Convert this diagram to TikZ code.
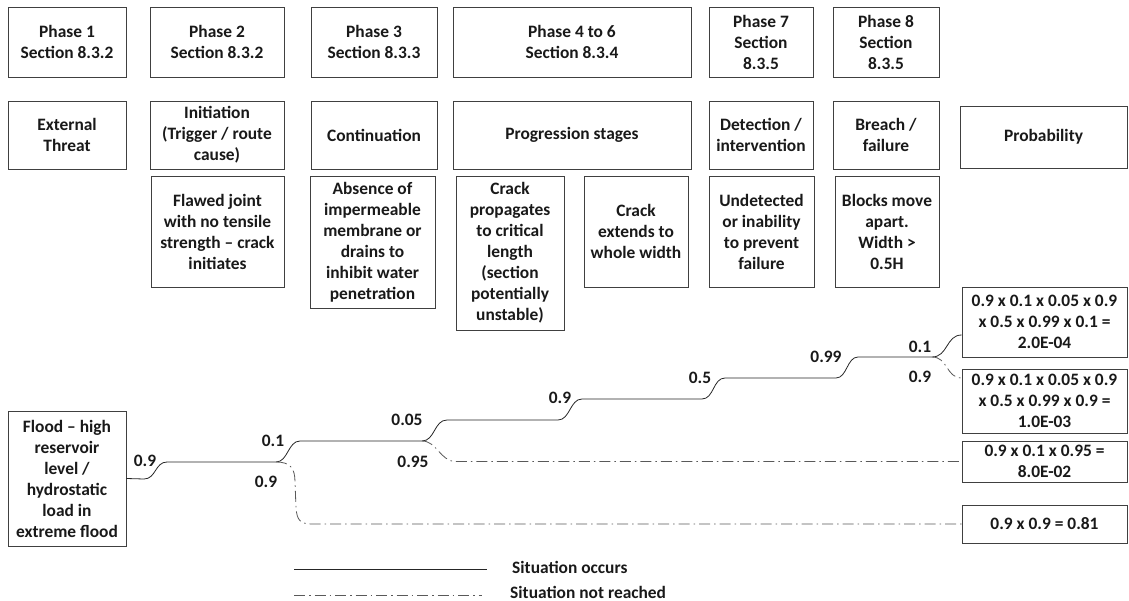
\documentclass[tikz,border=0pt]{standalone}
\usepackage{fontspec}
\setmainfont{Carlito}
\usetikzlibrary{shadows}
\begin{document}
\begin{tikzpicture}[x=1pt,y=-1pt,
  every node/.style={font=\fontsize{17.4}{21}\selectfont\bfseries, text=black!90},
  box/.style={draw=black!75, line width=0.8pt, fill=white, align=center, inner sep=0pt,
    general shadow={shadow xshift=1.4pt, shadow yshift=-1.4pt, fill=black!25}},
  lbl/.style={inner sep=0pt},
  occurs/.style={draw=black!85, line width=0.8pt},
  notreached/.style={draw=black!65, line width=0.8pt, dash pattern=on 11pt off 4pt on 1.5pt off 4pt},
]
\useasboundingbox (0,0) rectangle (1129,601);

% phase headers
\node[box, minimum width=118, minimum height=70] (p1) at (67,42)  {Phase 1\\Section 8.3.2};
\node[box, minimum width=134, minimum height=70] (p2) at (217,42) {Phase 2\\Section 8.3.2};
\node[box, minimum width=126, minimum height=70] (p3) at (374,42) {Phase 3\\Section 8.3.3};
\node[box, minimum width=238, minimum height=70] (p4) at (572,42) {Phase 4 to 6\\Section 8.3.4};
\node[box, minimum width=104, minimum height=70] (p7) at (761,42) {Phase 7\\Section\\8.3.5};
\node[box, minimum width=106, minimum height=70] (p8) at (886,42) {Phase 8\\Section\\8.3.5};

% stage titles
\node[box, minimum width=118, minimum height=68] (e1) at (67,135)  {External\\Threat};
\node[box, minimum width=134, minimum height=68] (e2) at (217,135) {Initiation\\(Trigger / route\\cause)};
\node[box, minimum width=126, minimum height=68] (e3) at (374,135) {Continuation};
\node[box, minimum width=238, minimum height=68] (e4) at (572,135) {Progression stages};
\node[box, minimum width=104, minimum height=68] (e7) at (761,135) {Detection /\\intervention};
\node[box, minimum width=106, minimum height=68] (e8) at (886,135) {Breach /\\failure};
\node[box, minimum width=167, minimum height=62] (prob) at (1043.5,137) {Probability};

% stage descriptions
\node[box, minimum width=133, minimum height=111] (d2) at (217.5,231.5) {Flawed joint\\with no tensile\\strength – crack\\initiates};
\node[box, minimum width=125, minimum height=132] (d3) at (372.5,242) {Absence of\\impermeable\\membrane or\\drains to\\inhibit water\\penetration};
\node[box, minimum width=108, minimum height=154] (d4) at (510,253) {Crack\\propagates\\to critical\\length\\(section\\potentially\\unstable)};
\node[box, minimum width=104, minimum height=111] (d5) at (636,231.5) {Crack\\extends to\\whole width};
\node[box, minimum width=105, minimum height=111] (d7) at (761.5,231.5) {Undetected\\or inability\\to prevent\\failure};
\node[box, minimum width=104, minimum height=111] (d8) at (887,231.5) {Blocks move\\apart.\\Width >\\0.5H};

% initiating event and outcomes
\node[box, minimum width=118, minimum height=135] (flood) at (67,478.5) {Flood – high\\reservoir\\level /\\hydrostatic\\load in\\extreme flood};
\node[box, minimum width=165, minimum height=70] (pA) at (1044.5,322) {0.9 x 0.1 x 0.05 x 0.9\\x 0.5 x 0.99 x 0.1 =\\2.0E-04};
\node[box, minimum width=165, minimum height=64] (pB) at (1044.5,401) {0.9 x 0.1 x 0.05 x 0.9\\x 0.5 x 0.99 x 0.9 =\\1.0E-03};
\node[box, minimum width=165, minimum height=41] (pC) at (1044.5,461.5) {0.9 x 0.1 x 0.95 =\\8.0E-02};
\node[box, minimum width=165, minimum height=38] (pD) at (1044.5,524) {0.9 x 0.9 = 0.81};

% branch points
\coordinate (j1) at (276,462);
\coordinate (j2) at (422,441);
\coordinate (j7) at (932,357);
\path (pA.west) ++(0,13) coordinate (aIn);
\path (pB.west) ++(0,-23) coordinate (bIn);

% event tree: path where each situation occurs
\draw[occurs] (flood.east) -- (144,479) .. controls (156,479) and (155,462) .. (167,462)
  -- (j1) .. controls (288,462) and (288,441) .. (300,441)
  -- (j2) .. controls (435,441) and (434,420) .. (447,420)
  -- (558,420) .. controls (570,420) and (570,399) .. (582,399)
  -- (702,399) .. controls (714,399) and (713,378) .. (725,378)
  -- (836,378) .. controls (847,378) and (847,357) .. (858,357)
  -- (j7) .. controls (948,357) and (946,335) .. (aIn);

% branches where the next situation is not reached
\draw[notreached] (j1) .. controls (290,462) and (295,468) .. (295,482)
  -- (296,508) .. controls (297,520) and (300,524) .. (312,524) -- (pD.west);
\draw[notreached] (j2) .. controls (437,441) and (440,461.5) .. (456,461.5) -- (pC.west);
\draw[notreached] (j7) .. controls (948,357) and (946,378) .. (bIn);

% branch probabilities
\node[lbl] (q1)  at (145,461) {0.9};
\node[lbl] (q2)  at (273,441) {0.1};
\node[lbl] (q2n) at (266,482) {0.9};
\node[lbl] (q3)  at (407,420) {0.05};
\node[lbl] (q3n) at (413,462) {0.95};
\node[lbl] (q4)  at (560,398) {0.9};
\node[lbl] (q5)  at (700,378) {0.5};
\node[lbl] (q6)  at (826,357) {0.99};
\node[lbl] (q7)  at (920,347) {0.1};
\node[lbl] (q7n) at (920,377) {0.9};

% legend
\coordinate (ka) at (294,569);
\coordinate (kb) at (487,569);
\coordinate (kc) at (294,595);
\coordinate (kd) at (482,595);
\draw[occurs] (ka) -- (kb);
\draw[notreached] (kc) -- (kd);
\node[lbl, anchor=west] (tocc) at (512,567) {Situation occurs};
\node[lbl, anchor=west] (tnot) at (510,592) {Situation not reached};
\end{tikzpicture}
\end{document}
